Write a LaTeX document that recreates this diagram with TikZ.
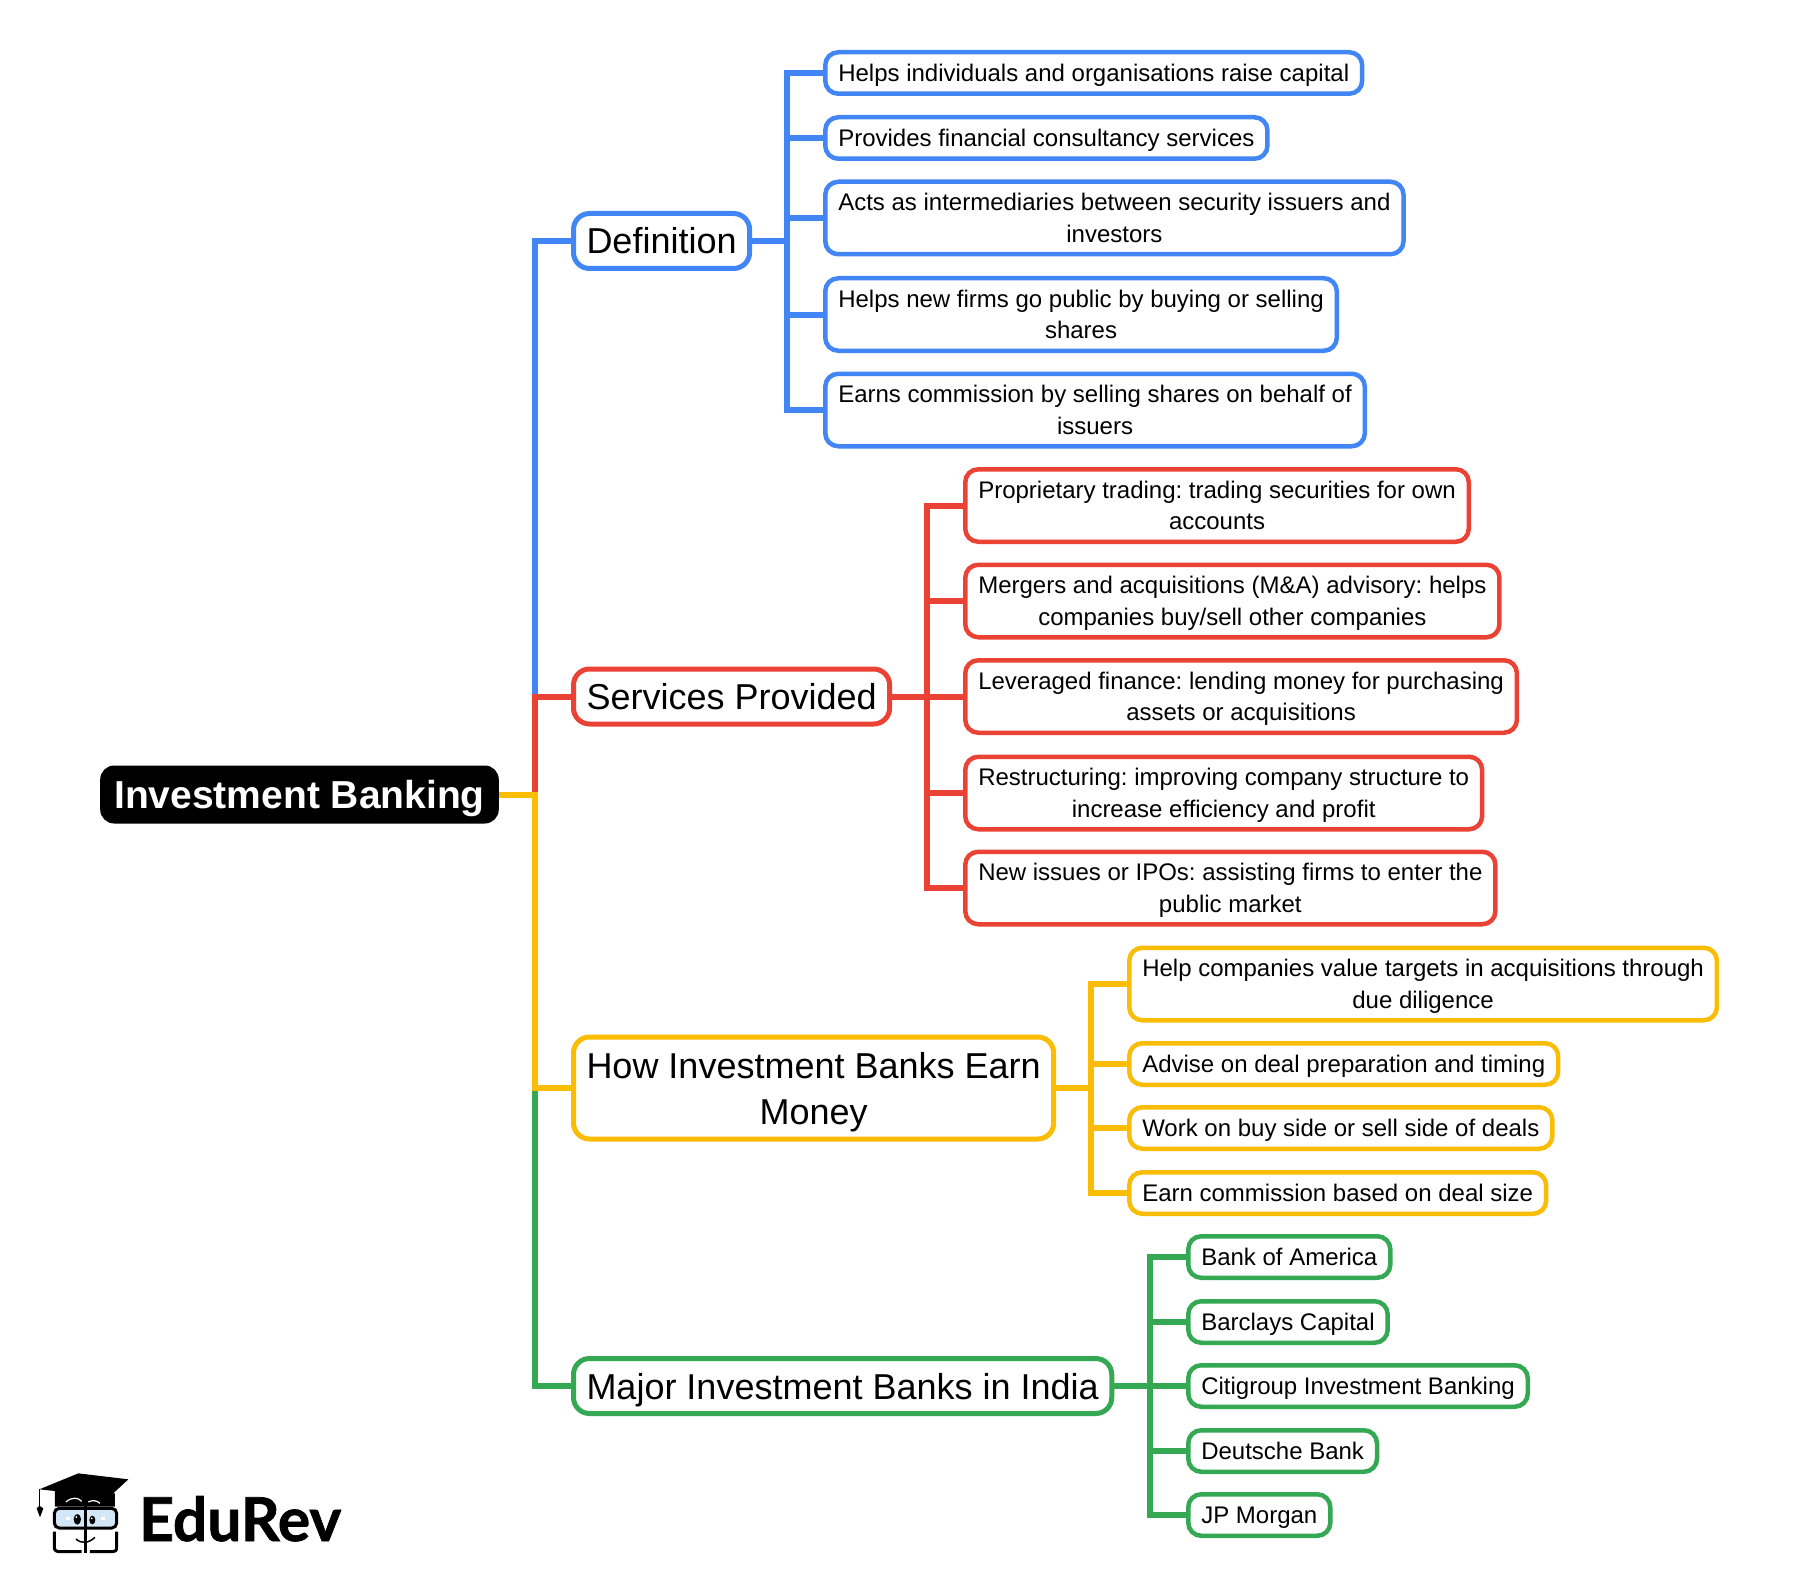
\documentclass[tikz,border=0pt]{standalone}
\usepackage{fontspec}
\setmainfont{Liberation Sans}
\newfontfamily\logofont[BoldFeatures={FakeBold=1.2}]{Lato}
\frenchspacing
\definecolor{mapblue}{HTML}{4285F4}
\definecolor{mapred}{HTML}{EA4335}
\definecolor{mapyellow}{HTML}{FBBC04}
\definecolor{mapgreen}{HTML}{34A853}
\definecolor{glassblue}{HTML}{D2E8F8}
\tikzset{
  rootbox/.style={fill=black,text=white,rounded corners=14pt,anchor=west,inner xsep=14pt,inner ysep=0pt,
    minimum height=58pt,text height=37pt,text depth=9pt,font=\fontsize{39}{46}\selectfont\bfseries},
  branchbox/.style={draw,fill=white,line width=5pt,rounded corners=16pt,anchor=west,align=center,inner xsep=13pt,
    inner ysep=0pt,minimum height=55pt,text height=35pt,text depth=9pt,font=\fontsize{36}{46}\selectfont},
  leafbox/.style={draw,fill=white,line width=4.5pt,rounded corners=13pt,anchor=west,align=center,inner xsep=13pt,
    inner ysep=0pt,minimum height=41.5pt,text height=23pt,text depth=6pt,font=\fontsize{24}{31.5}\selectfont},
  twoline/.style={minimum height=72.5pt,text height=55.5pt,text depth=7pt},
  link/.style={line width=6pt},
}
\begin{document}
\begin{tikzpicture}[x=1pt,y=-1pt]
\useasboundingbox (0,0) rectangle (1820,1589);

% Root
\node[rootbox] (root) at (100,794.5){Investment Banking};
\coordinate (trunk) at (534.5,794.5);

% Branches
\node[branchbox,draw=mapblue] (def) at (571,241){Definition};
\node[branchbox,draw=mapred] (serv) at (571,696.5){Services Provided};
\node[branchbox,draw=mapyellow,minimum height=102pt,text height=81pt] (earn) at (571,1088){How Investment Banks Earn\\Money};
\node[branchbox,draw=mapgreen] (major) at (571,1386){Major Investment Banks in India};

% Spines of the branches
\coordinate (defj) at (787,241);
\coordinate (servj) at (927,696.5);
\coordinate (earnj) at (1091,1088);
\coordinate (majorj) at (1150,1386);

% Definition
\node[leafbox,draw=mapblue] (d1) at (823,73){Helps individuals and organisations raise capital};
\node[leafbox,draw=mapblue] (d2) at (823,138){Provides financial consultancy services};
\node[leafbox,draw=mapblue,twoline] (d3) at (823,218){Acts as intermediaries between security issuers and\\investors};
\node[leafbox,draw=mapblue,twoline] (d4) at (823,314.5){Helps new firms go public by buying or selling\\shares};
\node[leafbox,draw=mapblue,twoline] (d5) at (823,410){Earns commission by selling shares on behalf of\\issuers};

% Services Provided
\node[leafbox,draw=mapred,twoline] (s1) at (963,505.5){Proprietary trading: trading securities for own\\accounts};
\node[leafbox,draw=mapred,twoline] (s2) at (963,601){Mergers and acquisitions (M\&A) advisory: helps\\companies buy/sell other companies};
\node[leafbox,draw=mapred,twoline] (s3) at (963,696.5){Leveraged finance: lending money for purchasing\\assets or acquisitions};
\node[leafbox,draw=mapred,twoline] (s4) at (963,793){Restructuring: improving company structure to\\increase efficiency and profit};
\node[leafbox,draw=mapred,twoline] (s5) at (963,888){New issues or IPOs: assisting firms to enter the\\public market};

% How Investment Banks Earn Money
\node[leafbox,draw=mapyellow,twoline] (h1) at (1127,984){Help companies value targets in acquisitions through\\due diligence};
\node[leafbox,draw=mapyellow] (h2) at (1127,1064){Advise on deal preparation and timing};
\node[leafbox,draw=mapyellow] (h3) at (1127,1128){Work on buy side or sell side of deals};
\node[leafbox,draw=mapyellow] (h4) at (1127,1193){Earn commission based on deal size};

% Major Investment Banks in India
\node[leafbox,draw=mapgreen] (m1) at (1186,1257){Bank of America};
\node[leafbox,draw=mapgreen] (m2) at (1186,1322){Barclays Capital};
\node[leafbox,draw=mapgreen] (m3) at (1186,1386){Citigroup Investment Banking};
\node[leafbox,draw=mapgreen] (m4) at (1186,1451){Deutsche Bank};
\node[leafbox,draw=mapgreen] (m5) at (1186,1515){JP Morgan};

% Trunk, one colour per stretch
\draw[link,mapblue] (def.west) -| (trunk |- serv.west);
\draw[link,mapred] (serv.west) -| (trunk);
\draw[link,mapgreen] (major.west) -| (trunk |- earn.west);
\draw[link,mapyellow] (root.east) -| (trunk |- earn.west) -- (earn.west);

% Links to the leaves
\draw[link,mapblue] (def.east) -- (defj);
\foreach \n in {d1,d2,d3,d4,d5} \draw[link,mapblue] (\n.west) -| (defj);
\draw[link,mapred] (serv.east) -- (servj);
\foreach \n in {s1,s2,s3,s4,s5} \draw[link,mapred] (\n.west) -| (servj);
\draw[link,mapyellow] (earn.east) -- (earnj);
\foreach \n in {h1,h2,h3,h4} \draw[link,mapyellow] (\n.west) -| (earnj);
\draw[link,mapgreen] (major.east) -- (majorj);
\foreach \n in {m1,m2,m3,m4,m5} \draw[link,mapgreen] (\n.west) -| (majorj);

% Logo
\node[anchor=base west,inner sep=0pt,font=\fontsize{60.5}{61}\selectfont\logofont\bfseries] (brand) at (139,1541){EduRev};
\begin{scope}[shift={(0,1440)},scale=1/3]
\fill[black] (165,150) -- (345,160) -- (345,200) -- (165,200) -- cycle;
\fill[black] (118,148) -- (235,100) -- (385,118) -- (315,183) -- (240,165) -- (165,153) -- cycle;
\draw[white,line width=1.2pt] (198,186) .. controls (215,170) and (235,172) .. (245,184);
\draw[white,line width=1.2pt] (265,186) .. controls (275,180) and (290,180) .. (300,190);
\draw[black,line width=1.3pt] (118,148) -- (118,205);
\fill[black] (110,205) -- (118,197) -- (130,205) -- (120,232) -- cycle;
\draw[black,fill=glassblue,line width=3pt,rounded corners=5pt] (163,205) rectangle (350,264);
\draw[black,line width=3pt] (163,275) -- (163,322) .. controls (163,332) and (170,335) .. (180,335) -- (245,335);
\draw[black,line width=3pt] (350,275) -- (350,322) .. controls (350,332) and (345,335) .. (338,335) -- (270,335);
\draw[black,line width=3pt] (256,195) -- (256,340);
\fill[black] (232,238) ellipse [x radius=11,y radius=16];
\fill[black] (277,240) ellipse [x radius=9,y radius=13];
\fill[white] (229,231) circle [radius=3];
\fill[white] (275,235) circle [radius=3];
\fill[white] (197,230) rectangle (209,241);
\fill[white] (302,230) rectangle (314,241);
\draw[black,line width=1.5pt] (228,297) .. controls (245,312) and (265,310) .. (285,292);
\end{scope}
\end{tikzpicture}
\end{document}
